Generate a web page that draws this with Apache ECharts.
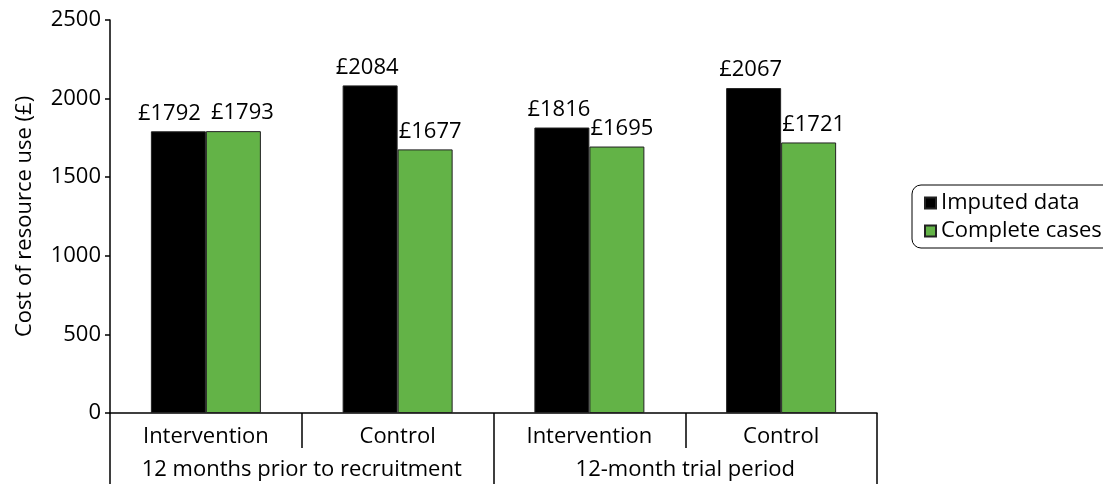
<!DOCTYPE html>
<html>
<head>
<meta charset="utf-8">
<script src="https://cdn.jsdelivr.net/npm/echarts@6/dist/echarts.min.js"></script>
<style>
  html, body { margin: 0; padding: 0; background: #fff; }
  #chart { width: 1103px; height: 484px; }
</style>
</head>
<body>
<div id="chart"></div>
<script>
// groups and sub-categories
const arms = ['Intervention', 'Control', 'Intervention', 'Control']
const periods = ['12 months prior to recruitment', '12-month trial period']
// cost of resource use (£)
const imputed = [1792, 2084, 1816, 2067]
const complete = [1793, 1677, 1695, 1721]
const yTicks = [0, 500, 1000, 1500, 2000, 2500]

const font = 'Open Sans'
const fs = 22
const green = '#63b347'

// labels sit a little apart so neighbours don't collide
const withShift = (vals, dx, firstDx) => vals.map((v, i) => ({
  value: v,
  label: { offset: [i === 0 ? firstDx : dx, 0] }
}))

const chart = echarts.init(document.getElementById('chart'))
chart.setOption({
  animation: false,
  textStyle: { fontFamily: font, color: '#000' },
  grid: { left: 110, right: 226, top: 20, bottom: 71 },
  legend: {
    orient: 'vertical',
    left: 912,
    top: 185,
    padding: [7, 12, 6, 12],
    itemGap: 6,
    itemWidth: 11,
    itemHeight: 11,
    borderColor: '#000',
    borderWidth: 1,
    borderRadius: 9,
    icon: 'rect',
    textStyle: { fontSize: fs, color: '#000', fontFamily: font },
    data: ['Imputed data', 'Complete cases']
  },
  xAxis: [
    {
      type: 'category',
      position: 'bottom',
      data: arms,
      axisLine: { lineStyle: { color: '#000', width: 1.5 } },
      axisTick: { show: true, interval: 0, length: 35, lineStyle: { color: '#000', width: 1.5 } },
      axisLabel: { interval: 0, margin: 13, fontSize: fs, color: '#000' }
    },
    {
      type: 'category',
      position: 'bottom',
      data: periods,
      axisLine: { show: false },
      axisTick: { show: true, interval: 0, length: 72, lineStyle: { color: '#000', width: 1.5 } },
      axisLabel: { interval: 0, margin: 46, fontSize: fs, color: '#000' }
    }
  ],
  yAxis: {
    type: 'value',
    min: yTicks[0],
    max: yTicks[yTicks.length - 1],
    interval: 500,
    name: 'Cost of resource use (£)',
    nameLocation: 'middle',
    nameGap: 74,
    nameMoveOverlap: false,
    nameTextStyle: { fontSize: fs, color: '#000' },
    axisLine: { show: true, lineStyle: { color: '#000', width: 1.5 } },
    axisTick: { show: true, length: 5, lineStyle: { color: '#000', width: 1.5 } },
    axisLabel: { fontSize: fs, color: '#000', margin: 9, formatter: v => String(v) },
    splitLine: { show: false }
  },
  series: [
    {
      name: 'Imputed data',
      type: 'bar',
      xAxisIndex: 0,
      data: withShift(imputed, -3, -9),
      barWidth: 55,
      barGap: '0%',
      itemStyle: { color: '#000', borderColor: '#222', borderWidth: 1 },
      label: { show: true, position: 'top', distance: 7, fontSize: fs, color: '#000', formatter: p => '£' + p.value }
    },
    {
      name: 'Complete cases',
      type: 'bar',
      xAxisIndex: 0,
      data: withShift(complete, 5, 9),
      barWidth: 55,
      barGap: '0%',
      itemStyle: { color: green, borderColor: '#222', borderWidth: 1 },
      label: { show: true, position: 'top', distance: 7, fontSize: fs, color: '#000', formatter: p => '£' + p.value }
    }
  ]
})
</script>
</body>
</html>
